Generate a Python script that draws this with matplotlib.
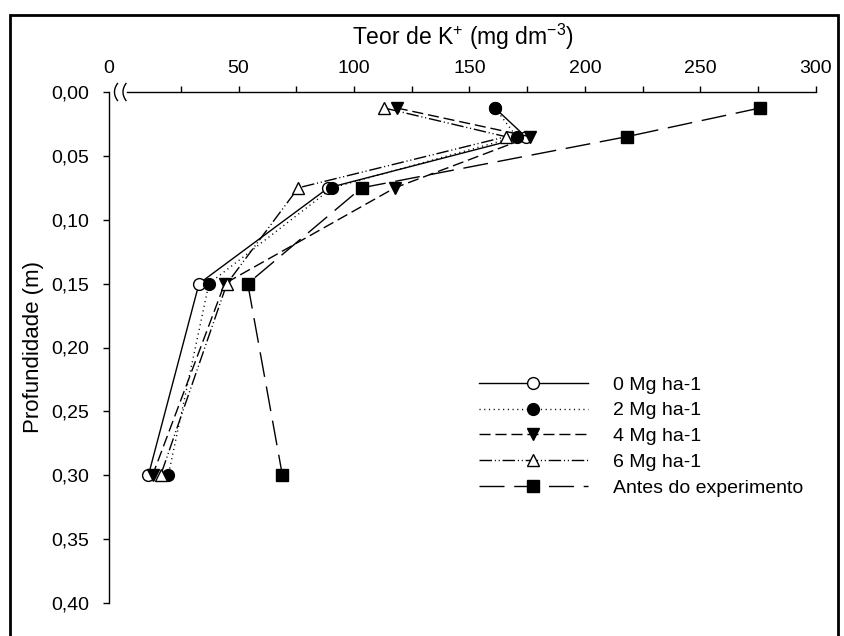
import numpy as np
import matplotlib
matplotlib.use("Agg")
import matplotlib.pyplot as plt
from matplotlib.patches import Rectangle

plt.rcParams['font.family'] = ['Liberation Sans', 'DejaVu Sans']
plt.rcParams['mathtext.fontset'] = 'custom'
plt.rcParams['mathtext.rm'] = 'Liberation Sans'
plt.rcParams['mathtext.it'] = 'Liberation Sans:italic'
plt.rcParams['mathtext.bf'] = 'Liberation Sans:bold'

# ---- data ----
depth = [0.0125, 0.035, 0.075, 0.15, 0.30]
k_0mg = [161.0, 174.3, 88.9, 32.9, 11.0]
k_2mg = [161.0, 170.4, 90.6, 37.2, 19.6]
k_4mg = [118.5, 176.2, 117.7, 44.0, 12.8]
k_6mg = [113.0, 165.8, 75.9, 45.0, 16.3]
k_antes = [275.8, 218.0, 103.3, 54.0, 69.0]
series_labels = ["0 Mg ha-1", "2 Mg ha-1", "4 Mg ha-1", "6 Mg ha-1", "Antes do experimento"]
x_ticks = [50, 100, 150, 200, 250, 300]
x_minor = [25, 75, 125, 175, 225, 275]
y_ticks = [0.0, 0.05, 0.10, 0.15, 0.20, 0.25, 0.30, 0.35, 0.40]
y_ticklabels = ["0,00", "0,05", "0,10", "0,15", "0,20", "0,25", "0,30", "0,35", "0,40"]

W, H = 845, 636
fig = plt.figure(figsize=(W / 100, H / 100), dpi=100)

# axes placement (pixels): left spine x=109, x=300 at 816, y=0 at 92, y=0.40 at 603
ax = fig.add_axes([109 / W, 1 - 603 / H, (816 - 109) / W, (603 - 92) / H])
xmin = -(123 - 109) / 2.31
ax.set_xlim(xmin, 300)
ax.set_ylim(0.40, 0.0)

styles = [
    dict(linestyle='-', marker='o', mfc='white', mec='black'),
    dict(linestyle=(0, (0.8, 2.6)), marker='o', mfc='black', mec='black'),
    dict(linestyle=(0, (8, 3.5)), marker='v', mfc='black', mec='black'),
    dict(linestyle=(0, (9, 2, 0.8, 2, 0.8, 2)), marker='^', mfc='white', mec='black'),
    dict(linestyle=(0, (18, 7)), marker='s', mfc='black', mec='black'),
]
all_series = [k_0mg, k_2mg, k_4mg, k_6mg, k_antes]
handles = []
for vals, st, lab in zip(all_series, styles, series_labels):
    h, = ax.plot(vals, depth, color='black', lw=1.0, markersize=8.5, mew=1.0,
                 label=lab, clip_on=False, **st)
    handles.append(h)

# spines
for s in ['top', 'right', 'bottom']:
    ax.spines[s].set_visible(False)
ax.spines['left'].set_linewidth(1.0)

# top axis line with break marks
ax.plot([1.6, 300], [0, 0], color='black', lw=1.0, clip_on=False, zorder=1)
t = np.linspace(-1, 1, 30)
for cx in [116.0, 124.5]:
    xp = cx + 3.0 * t ** 2 - 1.5
    yp = 92 + 8.5 * t
    ax.plot((xp - 123) / 2.31, (yp - 92) / 1278.0, color='black', lw=1.0, clip_on=False)

ax.xaxis.tick_top()
ax.set_xticks(x_ticks)
ax.set_xticklabels([str(v) for v in x_ticks])
ax.set_xticks(x_minor, minor=True)
ax.tick_params(axis='x', which='both', direction='out', length=4, width=1.0, pad=6.5, labelsize=14)
ax.annotate('0', xy=(xmin, 0), xycoords='data', xytext=(0, 10.5), textcoords='offset points',
            ha='center', va='bottom', fontsize=14, annotation_clip=False)

ax.set_yticks(y_ticks)
ax.set_yticklabels(y_ticklabels)
ax.tick_params(axis='y', direction='out', length=4, width=1.0, pad=10, labelsize=14)

# titles
fig.text(462.5 / W, 1 - 45 / H, r"Teor de K$^{\mathregular{+}}$ (mg dm$^{\mathregular{-3}}$)",
         ha='center', va='baseline', fontsize=16.5)
fig.text(34 / W, 1 - 347 / H, "Profundidade (m)", rotation=90, ha='center', va='center', fontsize=16)

# legend
leg = fig.legend(handles=handles, loc='upper left',
                 bbox_to_anchor=(479 / W, 1 - 376 / H), bbox_transform=fig.transFigure,
                 frameon=False, fontsize=14, handlelength=5.6, handletextpad=1.3,
                 labelspacing=0.42, borderpad=0, borderaxespad=0, numpoints=1)

# outer border
fig.add_artist(Rectangle((10 / W, -0.05), (838 - 10) / W, 1.05 - 15 / H,
                         transform=fig.transFigure, fill=False, lw=2.0, ec='black'))

fig.savefig("out.png", dpi=100)
